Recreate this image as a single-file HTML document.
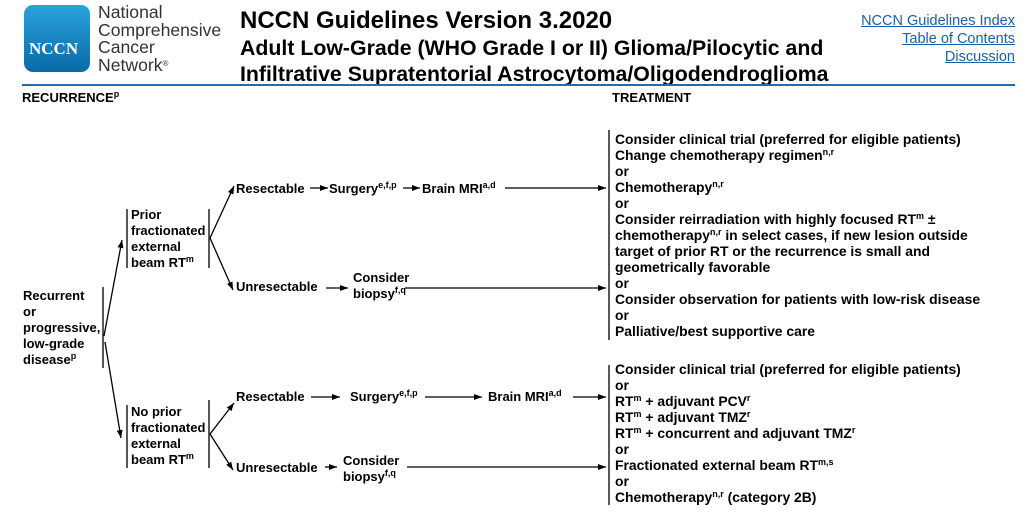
<!DOCTYPE html>
<html><head><meta charset="utf-8"><style>
body{margin:0;width:1030px;height:520px;background:#fff;position:relative;overflow:hidden;font-family:"Liberation Sans",Arial,sans-serif;}
.a{position:absolute;white-space:nowrap;}
.b{font-weight:bold;font-size:13px;line-height:16px;color:#000;}
.t{font-size:13.9px;}
sup{font-size:9px;line-height:0;vertical-align:5px;}
.lk{color:#1a5fa8;text-decoration:underline;font-size:14.5px;text-align:right;right:15px;}
</style></head><body>
<div class="a" style="left:24px;top:5px;width:66px;height:67px;border-radius:9px;background:linear-gradient(#2aa3dc,#0a6aa8);"></div>
<div class="a" style="left:29px;top:39px;color:#fff;font-family:'Liberation Serif',serif;font-weight:bold;font-size:17px;">NCCN</div>
<div class="a" style="left:98px;top:4px;font-size:17.6px;line-height:17.5px;color:#333;">National<br>Comprehensive<br>Cancer<br>Network<sup style="font-size:8px">®</sup></div>
<div class="a" style="left:240px;top:7px;font-size:24px;font-weight:bold;">NCCN Guidelines Version 3.2020</div>
<div class="a" style="left:240px;top:35px;font-size:21.3px;font-weight:bold;line-height:26px;">Adult Low-Grade (WHO Grade I or II) Glioma/Pilocytic and<br>Infiltrative Supratentorial Astrocytoma/Oligodendroglioma</div>
<div class="a lk" style="top:13px;">NCCN Guidelines Index</div>
<div class="a lk" style="top:31px;">Table of Contents</div>
<div class="a lk" style="top:49px;">Discussion</div>
<div class="a" style="left:22px;top:84px;width:993px;height:2px;background:#1f6fa8;"></div>
<div class="a b" style="left:22px;top:90px;">RECURRENCE<sup>p</sup></div>
<div class="a b" style="left:612px;top:90px;">TREATMENT</div>

<svg class="a" style="left:0;top:0" width="1030" height="520">
<defs><marker id="m" markerWidth="8" markerHeight="6" refX="8" refY="3" orient="auto" markerUnits="userSpaceOnUse"><path d="M0,0L8,3L0,6z" fill="#000"/></marker></defs>
<g stroke="#000" stroke-width="1.3" fill="none">
<line x1="103" y1="287" x2="103" y2="368"/>
<line x1="104" y1="336" x2="122" y2="240" marker-end="url(#m)"/>
<line x1="105" y1="342" x2="121" y2="438" marker-end="url(#m)"/>
<line x1="127" y1="209" x2="127" y2="268"/><line x1="209" y1="209" x2="209" y2="268"/>
<line x1="127" y1="405" x2="127" y2="468"/><line x1="209" y1="400" x2="209" y2="468"/>
<line x1="210" y1="238" x2="234" y2="186" marker-end="url(#m)"/>
<line x1="210" y1="238" x2="233" y2="290" marker-end="url(#m)"/>
<line x1="210" y1="434" x2="234" y2="403" marker-end="url(#m)"/>
<line x1="210" y1="434" x2="233" y2="470" marker-end="url(#m)"/>
<line x1="310" y1="188" x2="328" y2="188" marker-end="url(#m)"/>
<line x1="403" y1="188" x2="420" y2="188" marker-end="url(#m)"/>
<line x1="505" y1="188" x2="606" y2="188" marker-end="url(#m)"/>
<line x1="326" y1="288" x2="348" y2="288" marker-end="url(#m)"/>
<line x1="405" y1="288" x2="606" y2="288" marker-end="url(#m)"/>
<line x1="311" y1="397" x2="340" y2="397" marker-end="url(#m)"/>
<line x1="425" y1="397" x2="482" y2="397" marker-end="url(#m)"/>
<line x1="573" y1="397" x2="606" y2="397" marker-end="url(#m)"/>
<line x1="325" y1="467" x2="337" y2="467" marker-end="url(#m)"/>
<line x1="407" y1="467" x2="606" y2="467" marker-end="url(#m)"/>
<line x1="609" y1="130" x2="609" y2="340"/>
<line x1="609" y1="365" x2="609" y2="505"/>
</g></svg>

<div class="a b" style="left:23px;top:288px;">Recurrent<br>or<br>progressive,<br>low-grade<br>disease<sup>p</sup></div>
<div class="a b" style="left:131px;top:207px;">Prior<br>fractionated<br>external<br>beam RT<sup>m</sup></div>
<div class="a b" style="left:131px;top:404px;">No prior<br>fractionated<br>external<br>beam RT<sup>m</sup></div>
<div class="a b" style="left:236px;top:181px;">Resectable</div>
<div class="a b" style="left:329px;top:181px;">Surgery<sup>e,f,p</sup></div>
<div class="a b" style="left:422px;top:181px;">Brain MRI<sup>a,d</sup></div>
<div class="a b" style="left:236px;top:279px;">Unresectable</div>
<div class="a b" style="left:353px;top:270px;">Consider<br>biopsy<sup>f,q</sup></div>
<div class="a b" style="left:236px;top:389px;">Resectable</div>
<div class="a b" style="left:350px;top:389px;">Surgery<sup>e,f,p</sup></div>
<div class="a b" style="left:488px;top:389px;">Brain MRI<sup>a,d</sup></div>
<div class="a b" style="left:236px;top:460px;">Unresectable</div>
<div class="a b" style="left:343px;top:453px;">Consider<br>biopsy<sup>f,q</sup></div>
<div class="a b t" style="left:615px;top:131px;">Consider clinical trial (preferred for eligible patients)<br>Change chemotherapy regimen<sup>n,r</sup><br>or<br>Chemotherapy<sup>n,r</sup><br>or<br>Consider reirradiation with highly focused RT<sup>m</sup> ±<br>chemotherapy<sup>n,r</sup> in select cases, if new lesion outside<br>target of prior RT or the recurrence is small and<br>geometrically favorable<br>or<br>Consider observation for patients with low-risk disease<br>or<br>Palliative/best supportive care</div>
<div class="a b t" style="left:615px;top:361px;">Consider clinical trial (preferred for eligible patients)<br>or<br>RT<sup>m</sup> + adjuvant PCV<sup>r</sup><br>RT<sup>m</sup> + adjuvant TMZ<sup>r</sup><br>RT<sup>m</sup> + concurrent and adjuvant TMZ<sup>r</sup><br>or<br>Fractionated external beam RT<sup>m,s</sup><br>or<br>Chemotherapy<sup>n,r</sup> (category 2B)</div>
</body></html>
